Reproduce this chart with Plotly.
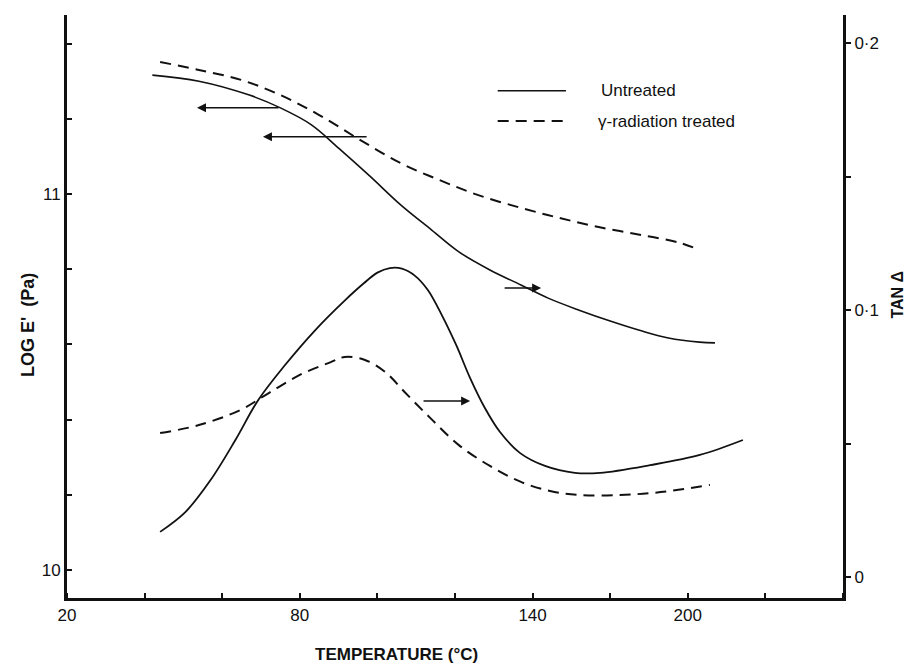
import plotly.graph_objects as go

# ---- data ----
# upper curves: log E' (Pa) vs temperature (°C)
temp_e_untreated = [42, 54, 67, 75, 83, 90, 98, 106, 114, 121, 129, 137, 144, 152, 160, 168, 175, 183, 187]
loge_untreated = [11.316, 11.30, 11.263, 11.229, 11.184, 11.122, 11.048, 10.971, 10.904, 10.846,
                  10.798, 10.758, 10.723, 10.691, 10.662, 10.636, 10.617, 10.606, 10.604]
temp_e_treated = [44, 54, 65, 75, 85, 95.5, 106, 116, 126, 137, 147, 157, 168, 178, 183]
loge_treated = [11.351, 11.330, 11.303, 11.263, 11.210, 11.144, 11.082, 11.037, 10.997, 10.963,
                10.936, 10.912, 10.891, 10.870, 10.851]

# lower curves: tan delta vs temperature (°C)
temp_t_untreated = [44, 50.5, 57, 63.4, 69.3, 76.2, 84, 91.7, 96.5, 100, 103.2, 106.3, 109.7, 113.0,
                    116.6, 120.3, 123.9, 127.7, 131.6, 136.8, 143.2, 150.9, 157.4, 170.3, 183.1, 194.2]
tan_untreated = [0.0169, 0.0243, 0.0363, 0.0513, 0.0663, 0.0794, 0.0925, 0.1037, 0.1100, 0.1140, 0.1157,
                 0.1155, 0.1128, 0.1075, 0.0981, 0.0869, 0.0745, 0.0633, 0.0543, 0.0464, 0.0416, 0.0390,
                 0.0390, 0.0419, 0.0457, 0.0513]
temp_t_treated = [44, 54, 64.6, 72, 80, 88, 91.6, 96.8, 102, 107, 113.6, 121, 129, 137, 144.5, 152,
                  162.5, 173, 185.7]
tan_treated = [0.0539, 0.0569, 0.0625, 0.0689, 0.0757, 0.0805, 0.0824, 0.0813, 0.0768, 0.0693, 0.0596,
               0.0494, 0.0416, 0.0356, 0.0322, 0.0307, 0.0307, 0.0318, 0.0345]

# tick labels
x_tick_vals = [20, 80, 140, 180]
x_tick_text = ["20", "80", "140", "200"]
y_tick_vals = [10, 11]
y_tick_text = ["10", "11"]
y2_tick_vals = [0, 0.1, 0.2]
y2_tick_text = ["0", "0·1", "0·2"]

series_names = ["Untreated", "γ-radiation treated"]

FONT = "Liberation Sans, Arial, Helvetica, sans-serif"
BLACK = "#111111"

fig = go.Figure()
fig.add_trace(go.Scatter(x=temp_e_untreated, y=loge_untreated, mode="lines", yaxis="y",
                         line=dict(color=BLACK, width=1.6, shape="spline"), showlegend=False))
fig.add_trace(go.Scatter(x=temp_e_treated, y=loge_treated, mode="lines", yaxis="y",
                         line=dict(color=BLACK, width=2, dash="11px,7px", shape="spline"), showlegend=False))
fig.add_trace(go.Scatter(x=temp_t_untreated, y=tan_untreated, mode="lines", yaxis="y2",
                         line=dict(color=BLACK, width=1.8, shape="spline"), showlegend=False))
fig.add_trace(go.Scatter(x=temp_t_treated, y=tan_treated, mode="lines", yaxis="y2",
                         line=dict(color=BLACK, width=2, dash="11px,7px", shape="spline"), showlegend=False))

# legend drawn by hand
fig.add_shape(type="line", xref="paper", yref="paper", x0=0.555, x1=0.643, y0=0.870, y1=0.870,
              line=dict(color=BLACK, width=1.6))
fig.add_shape(type="line", xref="paper", yref="paper", x0=0.555, x1=0.643, y0=0.818, y1=0.818,
              line=dict(color=BLACK, width=2, dash="11px,7px"))
fig.add_annotation(xref="paper", yref="paper", x=0.685, y=0.870, text=series_names[0], showarrow=False,
                   xanchor="left", yanchor="middle", font=dict(family=FONT, size=17, color=BLACK))
fig.add_annotation(xref="paper", yref="paper", x=0.682, y=0.818, text=series_names[1], showarrow=False,
                   xanchor="left", yanchor="middle", font=dict(family=FONT, size=17, color=BLACK))

# arrows pointing to the relevant axis
arrow_style = dict(showarrow=True, arrowhead=2, arrowsize=1.2, arrowwidth=1.5, arrowcolor=BLACK, text="")
fig.add_annotation(x=53.5, y=11.229, ax=74.9, ay=11.229, xref="x", yref="y", axref="x", ayref="y", **arrow_style)
fig.add_annotation(x=70.5, y=11.152, ax=97.6, ay=11.152, xref="x", yref="y", axref="x", ayref="y", **arrow_style)
fig.add_annotation(x=142.2, y=0.1082, ax=132.4, ay=0.1082, xref="x", yref="y2", axref="x", ayref="y2", **arrow_style)
fig.add_annotation(x=123.9, y=0.0659, ax=111.5, ay=0.0659, xref="x", yref="y2", axref="x", ayref="y2", **arrow_style)

# axis titles
fig.add_annotation(xref="paper", yref="paper", x=-0.066, y=0.468, text="<b>LOG E'  (Pa)</b>", showarrow=False,
                   textangle=-90, font=dict(family=FONT, size=18, color=BLACK))
fig.add_annotation(xref="paper", yref="paper", x=1.084, y=0.52, text="<b>TAN Δ</b>", showarrow=False,
                   textangle=-90, font=dict(family=FONT, size=16, color=BLACK))
fig.add_annotation(xref="paper", yref="paper", x=0.425, y=-0.097, yanchor="middle",
                   text="<b>TEMPERATURE (°C)</b>", showarrow=False,
                   font=dict(family=FONT, size=17, color=BLACK))

fig.update_layout(
    width=906, height=659,
    margin=dict(l=59, r=71, t=7, b=69),
    paper_bgcolor="white", plot_bgcolor="white",
    font=dict(family=FONT, size=17, color=BLACK),
    showlegend=False,
    xaxis=dict(range=[20, 220], showgrid=False, zeroline=False, showline=True, linecolor=BLACK, linewidth=3,
               tickvals=x_tick_vals, ticktext=x_tick_text, ticks="", ticklen=0,
               minor=dict(ticks="inside", dtick=20, tick0=20, ticklen=5, tickcolor=BLACK, tickwidth=1.5),
               tickfont=dict(family=FONT, size=17, color=BLACK)),
    yaxis=dict(range=[9.9255, 11.476], showgrid=False, zeroline=False, showline=True, linecolor=BLACK, linewidth=3,
               tickvals=y_tick_vals, ticktext=y_tick_text, ticks="", ticklen=0,
               minor=dict(ticks="inside", dtick=0.2, tick0=10, ticklen=5, tickcolor=BLACK, tickwidth=1.5),
               tickfont=dict(family=FONT, size=17, color=BLACK)),
    yaxis2=dict(range=[-0.00787, 0.2105], overlaying="y", side="right", showgrid=False, zeroline=False,
                showline=True, linecolor=BLACK, linewidth=3,
                tickvals=y2_tick_vals, ticktext=y2_tick_text, ticks="outside", ticklen=5,
                tickcolor=BLACK, tickwidth=1.5,
                minor=dict(ticks="outside", dtick=0.05, tick0=0, ticklen=5, tickcolor=BLACK, tickwidth=1.5),
                tickfont=dict(family=FONT, size=17, color=BLACK)),
)

fig.write_html("out.html")
